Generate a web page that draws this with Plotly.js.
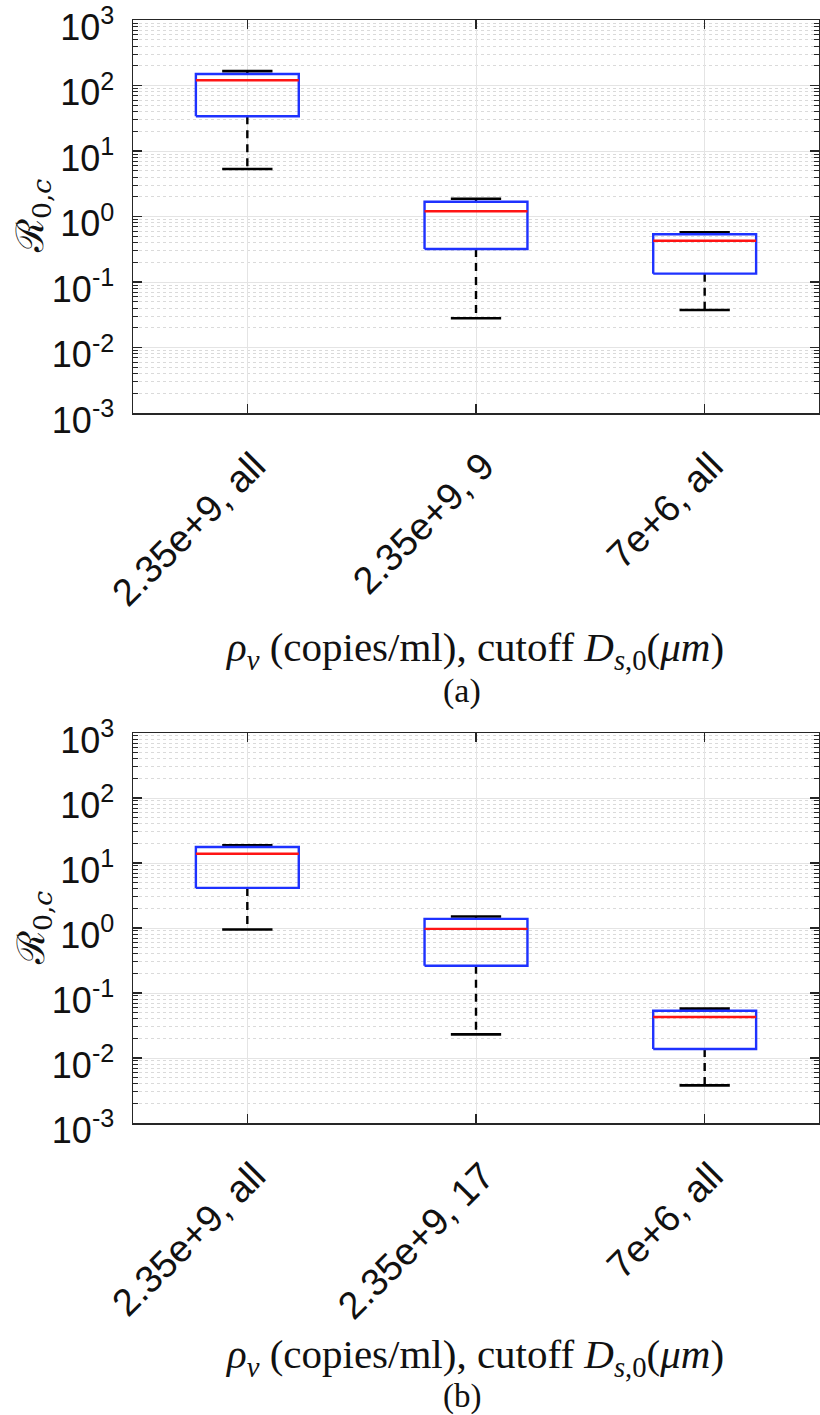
<!DOCTYPE html>
<html>
<head>
<meta charset="utf-8">
<script src="https://cdn.plot.ly/plotly-3.0.1.min.js"></script>
<style>
  html, body { margin: 0; padding: 0; background: #fff; }
  #graph { width: 820px; height: 1415px; }
</style>
</head>
<body>
<div id="graph"></div>
<script>
// categories of the two panels
var catsA = ['2.35e+9, all', '2.35e+9, 9', '7e+6, all'];
var catsB = ['2.35e+9, all', '2.35e+9, 17', '7e+6, all'];

// box statistics
var lowerA  = [5.3, 0.028, 0.0374];
var q1A     = [34, 0.319, 0.134];
var medianA = [120, 1.20, 0.427];
var q3A     = [150, 1.68, 0.535];
var upperA  = [166, 1.87, 0.574];

// box statistics
var lowerB  = [0.95, 0.0231, 0.00379];
var q1B     = [4.14, 0.263, 0.01375];
var medianB = [13.9, 0.97, 0.0428];
var q3B     = [17.6, 1.38, 0.0534];
var upperB  = [18.7, 1.5, 0.0574];

// y tick labels
var yTickVals = [0.001, 0.01, 0.1, 1, 10, 100, 1000];
var yTickText = ['10<sup>-3</sup>', '10<sup>-2</sup>', '10<sup>-1</sup>', '10<sup>0</sup>',
                 '10<sup>1</sup>', '10<sup>2</sup>', '10<sup>3</sup>'];

var minorVals = [];
for (var k = -3; k < 3; k++) {
    for (var m = 2; m <= 9; m++) {
        minorVals.push(m * Math.pow(10, k));
    }
}

var halfBox = 0.225;
var halfCap = 0.11;
var axisColor = '#262626';

function boxTraces(lower, q1, median, q3, upper, xa, ya) {
    var bx = [], by = [], mx = [], my = [], wx = [], wy = [], cx = [], cy = [];
    for (var i = 0; i < q1.length; i++) {
        bx.push(i - halfBox, i + halfBox, i + halfBox, i - halfBox, i - halfBox, null);
        by.push(q1[i], q1[i], q3[i], q3[i], q1[i], null);
        mx.push(i - halfBox, i + halfBox, null);
        my.push(median[i], median[i], null);
        wx.push(i, i, null, i, i, null);
        wy.push(q3[i], upper[i], null, q1[i], lower[i], null);
        cx.push(i - halfCap, i + halfCap, null, i - halfCap, i + halfCap, null);
        cy.push(upper[i], upper[i], null, lower[i], lower[i], null);
    }
    var base = {type: 'scatter', mode: 'lines', xaxis: xa, yaxis: ya, hoverinfo: 'skip', connectgaps: false};
    return [
        Object.assign({}, base, {x: wx, y: wy, line: {color: '#000', width: 2.4, dash: '8px,6px'}}),
        Object.assign({}, base, {x: cx, y: cy, line: {color: '#000', width: 2.6}}),
        Object.assign({}, base, {x: bx, y: by, line: {color: 'rgb(30,50,255)', width: 2.4}}),
        Object.assign({}, base, {x: mx, y: my, line: {color: 'rgb(255,20,20)', width: 2.4}})
    ];
}

var data = boxTraces(lowerA, q1A, medianA, q3A, upperA, 'x', 'y')
    .concat(boxTraces(lowerB, q1B, medianB, q3B, upperB, 'x2', 'y2'));

// pixel helpers for placing the annotations
var plotTop = 20, plotBottom = 1123, plotLeft = 133, plotRight = 819;
function py(p) { return (plotBottom - p) / (plotBottom - plotTop); }
function px(p) { return (p - plotLeft) / (plotRight - plotLeft); }

function xAxis(cats, anchor) {
    return {
        anchor: anchor, range: [-0.5, 2.5], tickvals: [0, 1, 2], ticktext: cats,
        tickangle: -45, ticks: 'inside', ticklen: 9, tickwidth: 1.3, tickcolor: axisColor,
        showline: true, linecolor: axisColor, linewidth: 1.5, mirror: 'ticks',
        showgrid: true, gridcolor: '#e4e4e4', gridwidth: 1, zeroline: false,
        ticklabelstandoff: 14, ticklabelshift: 7,
        tickfont: {family: 'Liberation Sans, Arial, sans-serif', size: 38, color: '#111'}
    };
}

function yAxis(domain, anchor) {
    return {
        anchor: anchor, domain: domain, type: 'log', range: [-3, 3],
        tickvals: yTickVals, ticktext: yTickText,
        ticks: 'inside', ticklen: 9, tickwidth: 1.3, tickcolor: axisColor,
        showline: true, linecolor: axisColor, linewidth: 1.5, mirror: 'ticks',
        showgrid: true, gridcolor: '#e4e4e4', gridwidth: 1, zeroline: false,
        ticklabelstandoff: 10, ticklabelshift: 7, ticklabeloverflow: 'allow',
        minor: {tickvals: minorVals, ticks: 'inside', ticklen: 5, tickcolor: axisColor, tickwidth: 1,
                showgrid: true, gridcolor: '#dadada', griddash: 'dot', gridwidth: 1},
        tickfont: {family: 'Liberation Sans, Arial, sans-serif', size: 36, color: '#111'}
    };
}

var serif = 'Liberation Serif, Times New Roman, serif';
var xTitle = '<i>ρ<sub>v</sub></i> (copies/ml), cutoff <i>D</i><sub><i>s</i>,0</sub>(<i>μm</i>)';
var yTitle = 'ℛ<sub>0,<i>c</i></sub>';

var annotations = [
    {text: xTitle, xref: 'paper', yref: 'paper', x: px(474), y: py(650), showarrow: false,
     xanchor: 'center', yanchor: 'middle', font: {family: serif, size: 41, color: '#111'}},
    {text: '(a)', xref: 'paper', yref: 'paper', x: px(462), y: py(691), showarrow: false,
     xanchor: 'center', yanchor: 'middle', font: {family: serif, size: 34, color: '#111'}},
    {text: xTitle, xref: 'paper', yref: 'paper', x: px(474), y: py(1357), showarrow: false,
     xanchor: 'center', yanchor: 'middle', font: {family: serif, size: 41, color: '#111'}},
    {text: '(b)', xref: 'paper', yref: 'paper', x: px(462), y: py(1396), showarrow: false,
     xanchor: 'center', yanchor: 'middle', font: {family: serif, size: 33, color: '#111'}},
    {text: yTitle, xref: 'paper', yref: 'paper', x: px(33), y: py(216), showarrow: false, textangle: -90,
     xanchor: 'center', yanchor: 'middle', font: {family: 'DejaVu Serif, serif', size: 38, color: '#111'}},
    {text: yTitle, xref: 'paper', yref: 'paper', x: px(33), y: py(928), showarrow: false, textangle: -90,
     xanchor: 'center', yanchor: 'middle', font: {family: 'DejaVu Serif, serif', size: 38, color: '#111'}}
];

var layout = {
    width: 820, height: 1415,
    margin: {l: plotLeft, r: 820 - plotRight, t: plotTop, b: 1415 - plotBottom},
    paper_bgcolor: '#fff', plot_bgcolor: '#fff',
    showlegend: false,
    xaxis: xAxis(catsA, 'y'),
    yaxis: yAxis([py(413), 1], 'x'),
    xaxis2: xAxis(catsB, 'y2'),
    yaxis2: yAxis([0, py(733)], 'x2'),
    annotations: annotations
};

Plotly.newPlot(document.getElementById('graph'), data, layout, {displayModeBar: false, staticPlot: true});
</script>
</body>
</html>
